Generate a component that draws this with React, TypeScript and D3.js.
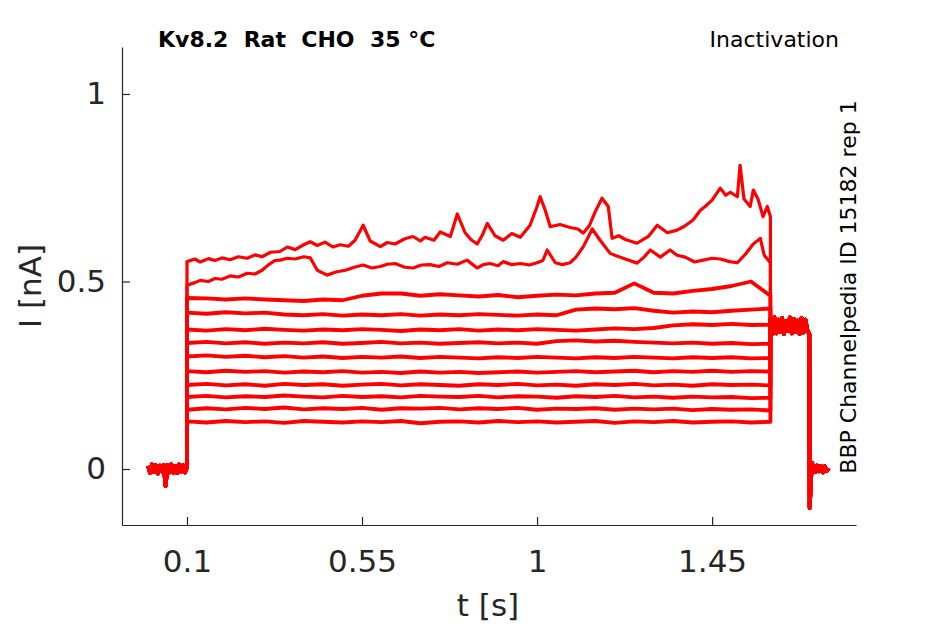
import { useEffect, useRef } from "react";
import * as d3 from "d3";

const W = 945;
const H = 624;

const xTicks = [0.1, 0.55, 1, 1.45];
const yTicks = [0, 0.5, 1];

// holding period before the step, shared by all sweeps
const baseT = [0, 0.005, 0.01, 0.015, 0.02, 0.025, 0.03, 0.035, 0.04, 0.045, 0.05, 0.055, 0.06, 0.065, 0.07, 0.075, 0.08, 0.085, 0.09, 0.095, 0.1];
const baseI = [0.008, -0.01, 0.012, -0.008, 0.01, -0.012, 0.009, -0.006, 0.011, -0.045, 0.01, -0.009, 0.012, -0.01, 0.008, -0.011, 0.012, -0.007, 0.01, -0.009, 0.005];

// time grid of the step for the ten flatter sweeps
const gridT = [0.1, 0.15, 0.2, 0.25, 0.3, 0.35, 0.4, 0.45, 0.5, 0.55, 0.6, 0.65, 0.7, 0.75, 0.8, 0.85, 0.9, 0.95, 1.0, 1.05, 1.1, 1.15, 1.2, 1.25, 1.3, 1.35, 1.4, 1.45, 1.5, 1.55, 1.6];

const sweep01 = [0.127, 0.124, 0.128, 0.125, 0.127, 0.123, 0.128, 0.126, 0.124, 0.127, 0.125, 0.128, 0.122, 0.126, 0.127, 0.124, 0.128, 0.125, 0.127, 0.124, 0.126, 0.128, 0.123, 0.127, 0.125, 0.128, 0.124, 0.126, 0.127, 0.124, 0.126];
const sweep02 = [0.158, 0.162, 0.159, 0.163, 0.16, 0.164, 0.159, 0.162, 0.16, 0.163, 0.158, 0.162, 0.161, 0.163, 0.159, 0.162, 0.16, 0.163, 0.158, 0.161, 0.16, 0.162, 0.158, 0.161, 0.159, 0.161, 0.157, 0.16, 0.158, 0.159, 0.156];
const sweep03 = [0.192, 0.195, 0.191, 0.194, 0.192, 0.196, 0.193, 0.191, 0.195, 0.192, 0.194, 0.191, 0.195, 0.193, 0.192, 0.195, 0.191, 0.194, 0.193, 0.19, 0.194, 0.192, 0.195, 0.191, 0.193, 0.19, 0.193, 0.191, 0.192, 0.189, 0.19];
const sweep04 = [0.224, 0.227, 0.223, 0.226, 0.222, 0.227, 0.224, 0.226, 0.222, 0.225, 0.227, 0.223, 0.226, 0.224, 0.222, 0.226, 0.224, 0.227, 0.223, 0.225, 0.222, 0.226, 0.224, 0.227, 0.223, 0.225, 0.222, 0.226, 0.224, 0.225, 0.223];
const sweep05 = [0.261, 0.258, 0.262, 0.259, 0.261, 0.257, 0.26, 0.258, 0.261, 0.257, 0.259, 0.256, 0.26, 0.257, 0.259, 0.256, 0.258, 0.26, 0.257, 0.259, 0.261, 0.258, 0.26, 0.262, 0.258, 0.261, 0.259, 0.262, 0.259, 0.261, 0.26];
const sweep06 = [0.3, 0.303, 0.299, 0.302, 0.298, 0.301, 0.297, 0.3, 0.296, 0.299, 0.297, 0.3, 0.296, 0.299, 0.297, 0.295, 0.298, 0.296, 0.299, 0.297, 0.295, 0.298, 0.296, 0.299, 0.297, 0.295, 0.298, 0.296, 0.298, 0.295, 0.296];
const sweep07 = [0.336, 0.339, 0.335, 0.338, 0.334, 0.337, 0.335, 0.338, 0.334, 0.336, 0.339, 0.335, 0.337, 0.334, 0.336, 0.338, 0.335, 0.337, 0.334, 0.341, 0.343, 0.34, 0.342, 0.339, 0.337, 0.335, 0.337, 0.334, 0.336, 0.333, 0.334];
const sweep08 = [0.372, 0.369, 0.373, 0.37, 0.374, 0.371, 0.369, 0.372, 0.37, 0.373, 0.371, 0.368, 0.372, 0.37, 0.373, 0.369, 0.372, 0.37, 0.373, 0.371, 0.369, 0.372, 0.375, 0.373, 0.376, 0.383, 0.386, 0.384, 0.387, 0.384, 0.385];
const sweep09 = [0.417, 0.414, 0.418, 0.415, 0.417, 0.412, 0.41, 0.413, 0.409, 0.412, 0.41, 0.413, 0.409, 0.412, 0.41, 0.413, 0.411, 0.409, 0.412, 0.41, 0.425, 0.428, 0.426, 0.429, 0.422, 0.417, 0.42, 0.418, 0.422, 0.425, 0.428];
const sweep10 = [0.456, 0.455, 0.452, 0.455, 0.452, 0.45, 0.448, 0.452, 0.45, 0.462, 0.468, 0.468, 0.462, 0.466, 0.463, 0.46, 0.464, 0.458, 0.462, 0.465, 0.463, 0.468, 0.47, 0.495, 0.47, 0.468, 0.475, 0.48, 0.488, 0.5, 0.462];

// the two largest sweeps, sampled where they wander
const sweep11T = [0.1, 0.12, 0.134, 0.155, 0.172, 0.19, 0.211, 0.232, 0.255, 0.275, 0.293, 0.31, 0.326, 0.339, 0.358, 0.378, 0.4, 0.417, 0.435, 0.46, 0.485, 0.507, 0.53, 0.553, 0.575, 0.597, 0.615, 0.635, 0.66, 0.681, 0.703, 0.725, 0.748, 0.769, 0.795, 0.82, 0.846, 0.862, 0.879, 0.9, 0.913, 0.935, 0.957, 0.98, 1.0, 1.015, 1.026, 1.047, 1.065, 1.085, 1.1, 1.119, 1.142, 1.162, 1.188, 1.205, 1.227, 1.257, 1.275, 1.291, 1.317, 1.342, 1.36, 1.381, 1.405, 1.427, 1.45, 1.471, 1.495, 1.515, 1.535, 1.556, 1.574, 1.584, 1.6];
const sweep11I = [0.49, 0.497, 0.503, 0.5, 0.508, 0.506, 0.515, 0.512, 0.522, 0.52, 0.53, 0.545, 0.556, 0.557, 0.562, 0.56, 0.566, 0.563, 0.53, 0.517, 0.526, 0.53, 0.538, 0.544, 0.536, 0.54, 0.546, 0.548, 0.538, 0.536, 0.544, 0.545, 0.54, 0.55, 0.546, 0.557, 0.536, 0.545, 0.548, 0.542, 0.553, 0.545, 0.548, 0.544, 0.55, 0.556, 0.584, 0.55, 0.545, 0.55, 0.565, 0.593, 0.64, 0.61, 0.575, 0.568, 0.56, 0.549, 0.565, 0.584, 0.565, 0.584, 0.57, 0.565, 0.552, 0.557, 0.562, 0.56, 0.553, 0.55, 0.572, 0.6, 0.615, 0.57, 0.55];

const sweep12T = [0.1, 0.12, 0.134, 0.155, 0.172, 0.19, 0.211, 0.232, 0.255, 0.275, 0.293, 0.315, 0.339, 0.358, 0.378, 0.4, 0.417, 0.435, 0.455, 0.475, 0.494, 0.515, 0.532, 0.553, 0.571, 0.597, 0.615, 0.635, 0.66, 0.681, 0.7, 0.712, 0.735, 0.751, 0.777, 0.795, 0.815, 0.83, 0.846, 0.86, 0.872, 0.892, 0.913, 0.935, 0.957, 0.982, 1.0, 1.008, 1.021, 1.034, 1.059, 1.085, 1.105, 1.119, 1.135, 1.149, 1.167, 1.183, 1.193, 1.21, 1.227, 1.257, 1.286, 1.309, 1.335, 1.36, 1.38, 1.401, 1.42, 1.432, 1.45, 1.471, 1.485, 1.497, 1.515, 1.522, 1.532, 1.548, 1.556, 1.568, 1.581, 1.592, 1.6];
const sweep12I = [0.553, 0.56, 0.552, 0.561, 0.556, 0.563, 0.558, 0.566, 0.562, 0.571, 0.566, 0.578, 0.58, 0.592, 0.585, 0.598, 0.606, 0.596, 0.605, 0.592, 0.598, 0.594, 0.61, 0.65, 0.608, 0.593, 0.604, 0.6, 0.614, 0.62, 0.608, 0.618, 0.61, 0.632, 0.62, 0.68, 0.63, 0.612, 0.6, 0.625, 0.655, 0.622, 0.61, 0.628, 0.618, 0.65, 0.7, 0.726, 0.69, 0.646, 0.652, 0.644, 0.64, 0.629, 0.65, 0.685, 0.722, 0.7, 0.615, 0.622, 0.612, 0.602, 0.62, 0.65, 0.63, 0.637, 0.648, 0.664, 0.69, 0.7, 0.717, 0.749, 0.73, 0.738, 0.726, 0.81, 0.72, 0.7, 0.744, 0.72, 0.673, 0.7, 0.673];

// tail pulse and return to holding, shared by all sweeps
const tailT = [1.6, 1.605, 1.61, 1.615, 1.62, 1.625, 1.63, 1.635, 1.64, 1.645, 1.65, 1.655, 1.66, 1.665, 1.67, 1.675, 1.68, 1.685, 1.69, 1.695, 1.7, 1.701, 1.704, 1.707, 1.71, 1.715, 1.72, 1.725, 1.73, 1.735, 1.74, 1.745, 1.75];
const tailI = [0.4, 0.36, 0.405, 0.362, 0.398, 0.365, 0.402, 0.36, 0.395, 0.368, 0.404, 0.362, 0.4, 0.366, 0.396, 0.36, 0.403, 0.364, 0.398, 0.37, 0.36, -0.104, -0.03, 0.016, 0.004, -0.008, 0.009, -0.006, 0.008, -0.009, 0.007, -0.005, 0.002];

const sweeps: { t: number[]; i: number[] }[] = [
  { t: gridT, i: sweep01 },
  { t: gridT, i: sweep02 },
  { t: gridT, i: sweep03 },
  { t: gridT, i: sweep04 },
  { t: gridT, i: sweep05 },
  { t: gridT, i: sweep06 },
  { t: gridT, i: sweep07 },
  { t: gridT, i: sweep08 },
  { t: gridT, i: sweep09 },
  { t: gridT, i: sweep10 },
  { t: sweep11T, i: sweep11I },
  { t: sweep12T, i: sweep12I },
];

const AXIS = "#262626";
const FONT = "DejaVu Sans";

export default function App() {
  const svgRef = useRef<SVGSVGElement | null>(null);

  useEffect(() => {
    if (!svgRef.current) return;
    const svg = d3.select(svgRef.current);
    svg.selectAll("*").remove();

    const x = d3.scaleLinear().domain([-0.0671, 1.82]).range([122, 856]);
    const y = d3.scaleLinear().domain([-0.1493, 1.1253]).range([525, 47]);

    const line = d3
      .line<[number, number]>()
      .x((d) => x(d[0]))
      .y((d) => y(d[1]));

    // traces (thick stroke stands in for the recording noise)
    const g = svg.append("g");
    sweeps.forEach((s, k) => {
      const pts: [number, number][] = [
        ...baseT.map((t, j) => [t, baseI[j]] as [number, number]),
        ...s.t.map((t, j) => [t, s.i[j]] as [number, number]),
        ...tailT.map((t, j) => [t, tailI[j]] as [number, number]),
      ];
      g.append("path")
        .attr("d", line(pts))
        .attr("fill", "none")
        .attr("stroke", "#ff0000")
        .attr("stroke-width", k >= 10 ? 3.2 : 3.8)
        .attr("stroke-linejoin", "round");
    });

    // axes, ticks pointing inward
    const xAxis = svg
      .append("g")
      .attr("transform", "translate(0,525)")
      .call(d3.axisBottom(x).tickValues(xTicks).tickFormat((d) => String(d)).tickSizeInner(-8).tickSizeOuter(0).tickPadding(25));
    const yAxis = svg
      .append("g")
      .attr("transform", "translate(122,0)")
      .call(d3.axisLeft(y).tickValues(yTicks).tickFormat((d) => String(d)).tickSizeInner(-8).tickSizeOuter(0).tickPadding(16));

    [xAxis, yAxis].forEach((a) => {
      a.attr("font-family", FONT).attr("font-size", 31);
      a.select(".domain").attr("stroke", AXIS).attr("stroke-width", 1.2);
      a.selectAll(".tick line").attr("stroke", AXIS).attr("stroke-width", 1.2);
      a.selectAll(".tick text").attr("fill", AXIS);
    });

    // axis labels
    svg.append("text")
      .attr("x", 488)
      .attr("y", 616)
      .attr("text-anchor", "middle")
      .attr("font-family", FONT)
      .attr("font-size", 31)
      .attr("fill", AXIS)
      .text("t [s]");

    svg.append("text")
      .attr("transform", "translate(41,286) rotate(-90)")
      .attr("text-anchor", "middle")
      .attr("font-family", FONT)
      .attr("font-size", 31)
      .attr("fill", AXIS)
      .text("I [nA]");

    // annotations
    svg.append("text")
      .attr("x", 158)
      .attr("y", 47)
      .attr("font-family", FONT)
      .attr("font-size", 22)
      .attr("font-weight", "bold")
      .style("white-space", "pre")
      .text("Kv8.2  Rat  CHO  35 °C");

    svg.append("text")
      .attr("x", 839)
      .attr("y", 47)
      .attr("text-anchor", "end")
      .attr("font-family", FONT)
      .attr("font-size", 22)
      .text("Inactivation");

    svg.append("text")
      .attr("transform", "translate(856,287) rotate(-90)")
      .attr("text-anchor", "middle")
      .attr("font-family", FONT)
      .attr("font-size", 22)
      .text("BBP Channelpedia ID 15182 rep 1");
  }, []);

  return (
    <svg
      ref={svgRef}
      width={W}
      height={H}
      style={{ position: "absolute", left: 0, top: 0, background: "#fff" }}
    />
  );
}
